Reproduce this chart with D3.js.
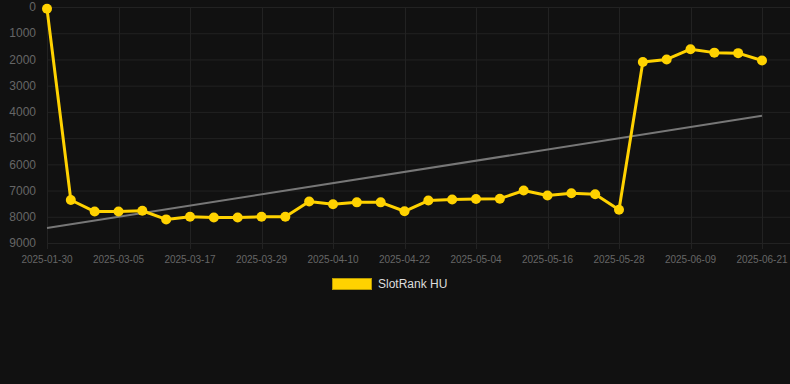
<!DOCTYPE html>
<html>
<head>
<meta charset="utf-8" />
<title>SlotRank HU</title>
<script src="https://d3js.org/d3.v7.min.js"></script>
<style>
  html, body { margin: 0; padding: 0; background: #111111; }
  svg { display: block; font-family: "Liberation Sans", Arial, sans-serif; }
</style>
</head>
<body>
<div id="chart"></div>
<script>
// data
var dates = ["2025-01-30", "2025-02-25", "2025-03-01", "2025-03-05", "2025-03-09", "2025-03-13",
  "2025-03-17", "2025-03-21", "2025-03-25", "2025-03-29", "2025-04-02", "2025-04-06",
  "2025-04-10", "2025-04-14", "2025-04-18", "2025-04-22", "2025-04-26", "2025-04-30",
  "2025-05-04", "2025-05-08", "2025-05-12", "2025-05-16", "2025-05-20", "2025-05-24",
  "2025-05-28", "2025-06-01", "2025-06-05", "2025-06-09", "2025-06-13", "2025-06-17", "2025-06-21"];
var rank = [70, 7360, 7800, 7800, 7770, 8100, 8000, 8030, 8030, 8000, 8000, 7420,
  7520, 7450, 7450, 7790, 7380, 7340, 7320, 7310, 7000, 7190, 7100, 7140,
  7730, 2100, 2000, 1610, 1740, 1760, 2040];
var trend = [8430, 4150]; // first and last date
var yTicks = [0, 1000, 2000, 3000, 4000, 5000, 6000, 7000, 8000, 9000];
var seriesName = "SlotRank HU";

var W = 790, H = 384;
var lineColor = "#ffd200";

var svg = d3.select("#chart").append("svg")
  .attr("width", W)
  .attr("height", H);

var x = d3.scalePoint().domain(dates).range([47, 762]);
var y = d3.scaleLinear().domain([0, 9000]).range([7, 243]);

// grid
svg.append("g").selectAll("line")
  .data(yTicks)
  .enter().append("line")
  .attr("x1", 47).attr("x2", W)
  .attr("y1", function(d) { return y(d) + 0.5; })
  .attr("y2", function(d) { return y(d) + 0.5; })
  .style("stroke", "#222222")
  .style("stroke-width", 1);

svg.append("g").selectAll("line")
  .data(dates.filter(function(d, i) { return i % 3 == 0; }))
  .enter().append("line")
  .attr("x1", function(d) { return Math.round(x(d)) + 0.5; })
  .attr("x2", function(d) { return Math.round(x(d)) + 0.5; })
  .attr("y1", y(0)).attr("y2", y(9000) + 6)
  .style("stroke", "#222222")
  .style("stroke-width", 1);

// y labels
svg.append("g").selectAll("text")
  .data(yTicks)
  .enter().append("text")
  .attr("x", 36)
  .attr("y", function(d) { return y(d); })
  .attr("dy", "0.35em")
  .attr("text-anchor", "end")
  .style("font-size", "12px")
  .style("fill", "#666666")
  .text(function(d) { return d; });

// x labels
svg.append("g").selectAll("text")
  .data(dates.filter(function(d, i) { return i % 3 == 0; }))
  .enter().append("text")
  .attr("x", function(d) { return x(d); })
  .attr("y", 263)
  .attr("text-anchor", "middle")
  .style("font-size", "10px")
  .style("fill", "#666666")
  .text(function(d) { return d; });

// trend line
svg.append("line")
  .attr("x1", x(dates[0]))
  .attr("y1", y(trend[0]))
  .attr("x2", x(dates[dates.length - 1]))
  .attr("y2", y(trend[1]))
  .style("stroke", "#777777")
  .style("stroke-width", 2);

// series
var line = d3.line()
  .x(function(d, i) { return x(dates[i]); })
  .y(function(d) { return y(d); });

svg.append("path")
  .datum(rank)
  .attr("d", line)
  .style("fill", "none")
  .style("stroke", lineColor)
  .style("stroke-width", 3)
  .style("stroke-linejoin", "round");

svg.append("g").selectAll("circle")
  .data(rank)
  .enter().append("circle")
  .attr("cx", function(d, i) { return x(dates[i]); })
  .attr("cy", function(d) { return y(d); })
  .attr("r", 5)
  .style("fill", lineColor);

// legend
var legend = svg.append("g").attr("transform", "translate(332.5,278.5)");
legend.append("rect")
  .attr("width", 39)
  .attr("height", 11)
  .style("fill", lineColor)
  .style("stroke", "#b89a00")
  .style("stroke-width", 1);
legend.append("text")
  .attr("x", 45.5)
  .attr("y", 5.5)
  .attr("dy", "0.35em")
  .style("font-size", "12px")
  .style("fill", "#dddddd")
  .text(seriesName);
</script>
</body>
</html>
